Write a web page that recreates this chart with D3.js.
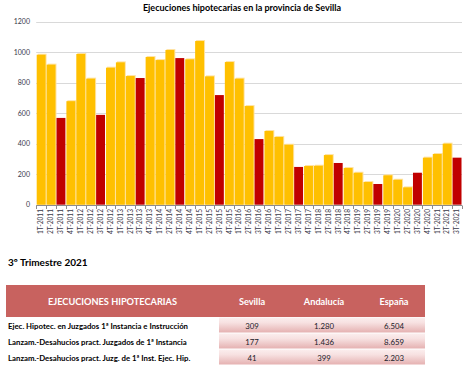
<!DOCTYPE html>
<html><head><meta charset="utf-8">
<script src="https://cdn.jsdelivr.net/npm/d3@7"></script>
<style>
html,body{margin:0;padding:0;background:#fff;}
svg{display:block;font-family:Lato,"Open Sans",sans-serif;}
</style></head>
<body>
<svg id="c" width="467" height="368"></svg>
<script>
const years = [2011,2012,2013,2014,2015,2016,2017,2018,2019,2020,2021];
const categories = [];
years.forEach(y => [1,2,3,4].forEach(q => { if (!(y === 2021 && q === 4)) categories.push(q + "T-" + y); }));
const values = [985,920,570,680, 990,828,590,900, 935,845,832,970, 950,1016,963,955,
                1075,843,720,937, 828,648,431,484, 445,394,248,254, 256,326,274,241,
                210,149,136,193, 164,114,210,309, 333,401,309];
const yTicks = [0,200,400,600,800,1000,1200];
const title = "Ejecuciones hipotecarias en la provincia de Sevilla";
const subtitle = "3º Trimestre 2021";
const tableHeader = ["EJECUCIONES HIPOTECARIAS","Sevilla","Andalucía","España"];
const rowLabels = ["Ejec. Hipotec. en Juzgados 1ª Instancia e Instrucción",
                   "Lanzam.-Desahucios pract. Juzgados de 1ª Instancia",
                   "Lanzam.-Desahucios pract. Juzg. de 1ª Inst. Ejec. Hip."];
const sevilla = ["309","177","41"];
const andalucia = ["1.280","1.436","399"];
const espana = ["6.504","8.659","2.203"];

const svg = d3.select("#c");
const x = d3.scaleBand().domain(categories).range([36.2, 462]).paddingInner(0.1).paddingOuter(0.05);
const y = d3.scaleLinear().domain([0,1200]).range([204.7, 22]);

// gridlines
svg.append("g").selectAll("line").data(yTicks.filter(t=>t>0)).join("line")
  .attr("x1",36.2).attr("x2",462).attr("y1",d=>Math.round(y(d))+0.5).attr("y2",d=>Math.round(y(d))+0.5)
  .attr("stroke","#d9d9d9").attr("stroke-width",1);

// y labels
svg.append("g").selectAll("text").data(yTicks).join("text")
  .attr("x",30).attr("y",d=>y(d)+2.4).attr("text-anchor","end")
  .attr("font-size",7).attr("fill","#3a3a4a").text(d=>d);

const isRed = d => d.startsWith("3T");
// light fringe behind yellow bars
svg.append("g").selectAll("rect").data(categories.filter(c=>!isRed(c))).join("rect")
  .attr("x",d=>x(d)+1).attr("y",d=>y(values[categories.indexOf(d)])-1)
  .attr("width",x.bandwidth()).attr("height",d=>y(0)-y(values[categories.indexOf(d)])+1)
  .attr("fill","#ffe3a3");
svg.append("g").selectAll("rect").data(categories).join("rect")
  .attr("x",d=>x(d)).attr("y",(d,i)=>y(values[i]))
  .attr("width",x.bandwidth()).attr("height",(d,i)=>y(0)-y(values[i]))
  .attr("fill",d=>isRed(d)?"#c00000":"#ffc000");

// x axis line + ticks
const base = Math.round(y(0))+0.5;
svg.append("line").attr("x1",36.2).attr("x2",462).attr("y1",base).attr("y2",base)
  .attr("stroke","#8c8c8c").attr("stroke-width",1);
const step = x.step();
const bounds = categories.map(c=>x(c)-step*x.paddingInner()/2).concat([x(categories[categories.length-1])+x.bandwidth()+step*x.paddingInner()/2]);
svg.append("g").selectAll("line").data(bounds).join("line")
  .attr("x1",d=>Math.round(d)+0.5).attr("x2",d=>Math.round(d)+0.5).attr("y1",base).attr("y2",base+3.5)
  .attr("stroke","#8c8c8c").attr("stroke-width",1);

// x labels
svg.append("g").selectAll("text").data(categories).join("text")
  .attr("transform",d=>`translate(${x(d)+x.bandwidth()/2+2.3},209) rotate(-90)`)
  .attr("text-anchor","end").attr("font-size",6.6).attr("fill","#3a3a4a").text(d=>d);

// title
svg.append("text").attr("x",242).attr("y",11).attr("text-anchor","middle")
  .attr("font-size",9).attr("font-weight","bold").attr("fill","#000").text(title);

// subtitle
svg.append("text").attr("x",8).attr("y",266).attr("font-size",10).attr("font-weight","bold")
  .attr("fill","#000").text(subtitle);

// table
const defs = svg.append("defs");
const g = defs.append("linearGradient").attr("id","cellg").attr("x1",0).attr("y1",0).attr("x2",0).attr("y2",1);
g.append("stop").attr("offset","0%").attr("stop-color","#fbeeee");
g.append("stop").attr("offset","35%").attr("stop-color","#f7e1e1");
g.append("stop").attr("offset","100%").attr("stop-color","#e5b1b1");

svg.append("rect").attr("x",6).attr("y",285).attr("width",419).attr("height",32).attr("fill","#c8625f");
const colX = [112.5,252,324,394];
svg.append("g").selectAll("text").data(tableHeader).join("text")
  .attr("x",(d,i)=>colX[i]).attr("y",304.5).attr("text-anchor","middle")
  .attr("font-size",(d,i)=>i===0?9.2:9.2).attr("font-weight","bold").attr("fill","#fff").text(d=>d);

const rowY = [317.5, 333.5, 349.5];
svg.append("g").selectAll("rect").data(rowLabels).join("rect")
  .attr("x",219).attr("y",(d,i)=>rowY[i]).attr("width",206).attr("height",15)
  .attr("fill","url(#cellg)");
svg.append("g").selectAll("text").data(rowLabels).join("text")
  .attr("x",8).attr("y",(d,i)=>rowY[i]+11).attr("font-size",7.8).attr("font-weight","bold")
  .attr("fill","#000").text(d=>d);
[sevilla,andalucia,espana].forEach((col,ci)=>{
  svg.append("g").selectAll("text").data(col).join("text")
    .attr("x",colX[ci+1]).attr("y",(d,i)=>rowY[i]+11).attr("text-anchor","middle")
    .attr("font-size",7.8).attr("fill","#1a1a2a").text(d=>d);
});
</script>
</body></html>
